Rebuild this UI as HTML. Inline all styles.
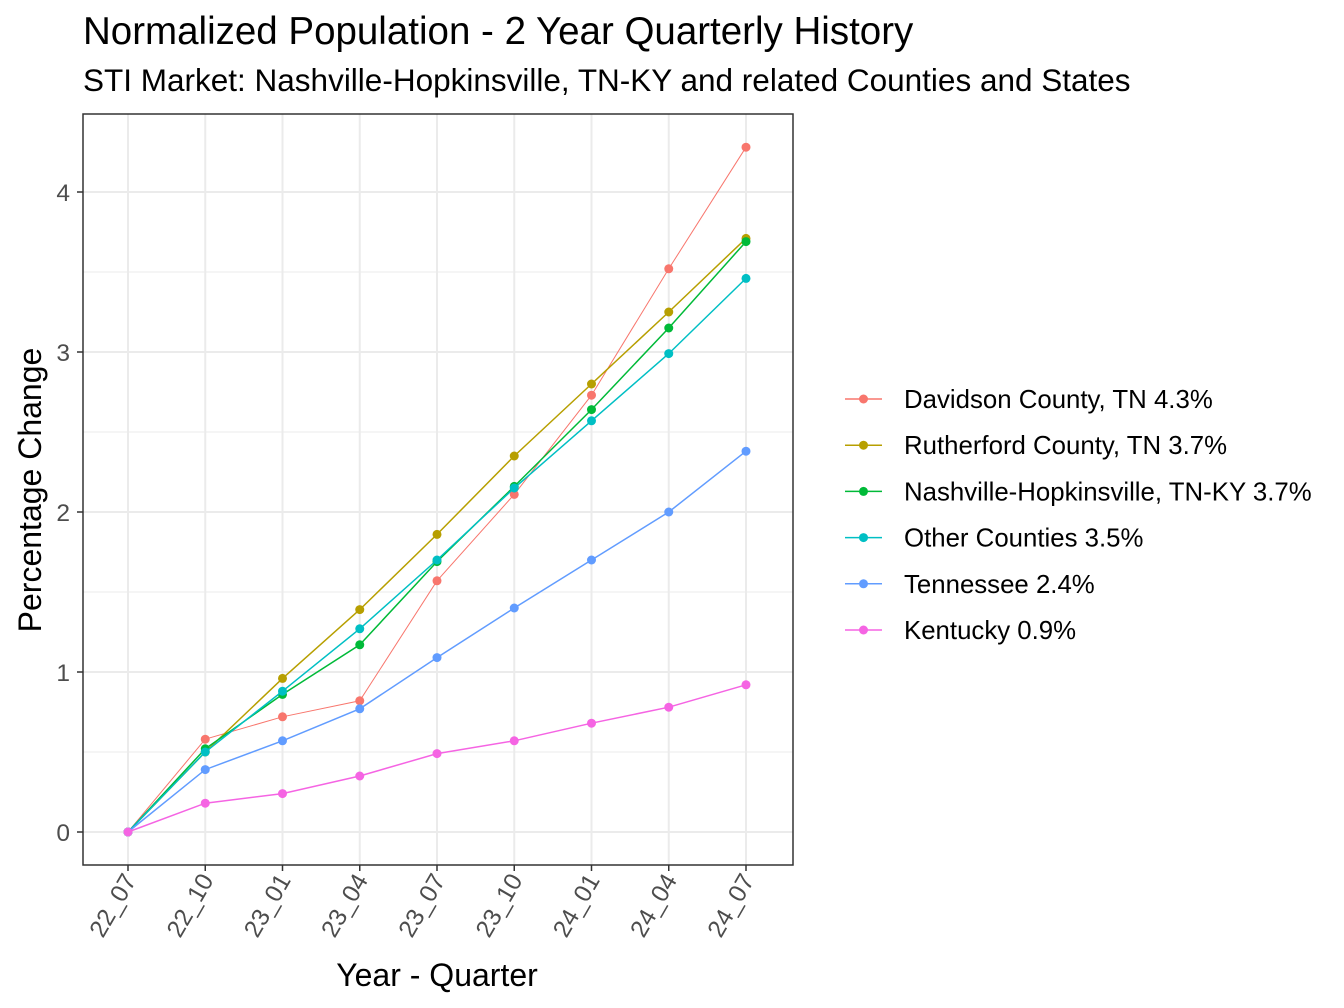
<!DOCTYPE html>
<html><head><meta charset="utf-8"><style>
html,body{margin:0;padding:0;background:#fff;}
svg{display:block;font-family:"Liberation Sans",Arial,sans-serif;}
</style></head><body>
<svg id="chart" width="1344" height="1008" viewBox="0 0 1344 1008">
<text x="83" y="44" font-size="38.5" fill="#000">Normalized Population - 2 Year Quarterly History</text>
<text x="83" y="91" font-size="31.5" fill="#000">STI Market: Nashville-Hopkinsville, TN-KY and related Counties and States</text>
<g id="grid"></g>
<g id="series"></g>
<rect x="83" y="114" width="710" height="751" fill="none" stroke="#333" stroke-width="1.5"/>
<g id="axes"></g>
<text transform="translate(41,490) rotate(-90)" text-anchor="middle" font-size="32" fill="#000">Percentage Change</text>
<text x="437" y="986" text-anchor="middle" font-size="32" fill="#000">Year - Quarter</text>
<g id="legend"></g>
</svg>
<script>
const categories = ["22_07","22_10","23_01","23_04","23_07","23_10","24_01","24_04","24_07"];
const yTicks = [0,1,2,3,4];
const seriesNames = ["Davidson County, TN 4.3%","Rutherford County, TN 3.7%","Nashville-Hopkinsville, TN-KY 3.7%","Other Counties 3.5%","Tennessee 2.4%","Kentucky 0.9%"];
const davidson = [0,0.58,0.72,0.82,1.57,2.11,2.73,3.52,4.28];
const rutherford = [0,0.50,0.96,1.39,1.86,2.35,2.80,3.25,3.71];
const nashville = [0,0.52,0.86,1.17,1.69,2.16,2.64,3.15,3.69];
const otherCounties = [0,0.50,0.88,1.27,1.70,2.15,2.57,2.99,3.46];
const tennessee = [0,0.39,0.57,0.77,1.09,1.40,1.70,2.00,2.38];
const kentucky = [0,0.18,0.24,0.35,0.49,0.57,0.68,0.78,0.92];
const seriesValues = [davidson,rutherford,nashville,otherCounties,tennessee,kentucky];
const colors = ["#F8766D","#B79F00","#00BA38","#00BFC4","#619CFF","#F564E3"];
const seriesIds = ["davidson","rutherford","nashville-hopkinsville","other-counties","tennessee","kentucky"];

const NS="http://www.w3.org/2000/svg";
const x0=128, xStep=(746-128)/(categories.length-1);
const xScale=i=>x0+i*xStep;
const yScale=v=>832-v*160;
function mk(tag,attrs,parent){const e=document.createElementNS(NS,tag);for(const k in attrs)e.setAttribute(k,attrs[k]);parent.appendChild(e);return e;}

const grid=document.getElementById('grid');
mk('rect',{x:83,y:114,width:710,height:751,fill:'#fff'},grid);
for(let i=0;i<yTicks.length;i++){
  const mv=yTicks[i]+0.5, ym=yScale(mv);
  if(ym>114){const m=mk('line',{x1:83,x2:793,y1:ym,y2:ym,stroke:'#ebebeb','stroke-width':1},grid);
  
  }
  const y=yScale(yTicks[i]);
  const l=mk('line',{x1:83,x2:793,y1:y,y2:y,stroke:'#ebebeb','stroke-width':2},grid);
  
  
}
categories.forEach((c,i)=>{
  const x=xScale(i);
  const l=mk('line',{x1:x,x2:x,y1:114,y2:865,stroke:'#ebebeb','stroke-width':2},grid);
  
  
});

const sg=document.getElementById('series');
seriesValues.forEach((vals,s)=>{
  const g=mk('g',{},sg);
  
  
  const pts=vals.map((v,i)=>xScale(i)+','+yScale(v)).join(' ');
  const pl=mk('polyline',{points:pts,fill:'none',stroke:colors[s],'stroke-width':s===0?1:1.5},g);
  
  
  vals.forEach((v,i)=>{
    const c=mk('circle',{cx:xScale(i),cy:yScale(v),r:4.5,fill:colors[s]},g);
    
    
  });
});

const ax=document.getElementById('axes');
yTicks.forEach(t=>{
  const y=yScale(t);
  const tk=mk('line',{x1:77,x2:83,y1:y,y2:y,stroke:'#333','stroke-width':1.5},ax);
  
  
  const tx=mk('text',{x:70,y:y+9,'text-anchor':'end','font-size':24.5,fill:'#4d4d4d'},ax);
  tx.textContent=t;
  
  
});
categories.forEach((c,i)=>{
  const x=xScale(i);
  const tk=mk('line',{x1:x,x2:x,y1:865,y2:871,stroke:'#333','stroke-width':1.5},ax);
  
  
  const tx=mk('text',{transform:`translate(${x+9},${880}) rotate(-60)`,'text-anchor':'end','font-size':24.5,fill:'#4d4d4d'},ax);
  tx.textContent=c;
  
  
});

const lg=document.getElementById('legend');
seriesNames.forEach((n,s)=>{
  const y=399+s*46.2;
  const g=mk('g',{},lg);
  
  
  mk('line',{x1:845,x2:882,y1:y,y2:y,stroke:colors[s],'stroke-width':1.5},g);
  mk('circle',{cx:863.5,cy:y,r:4.5,fill:colors[s]},g);
  const t=mk('text',{x:904,y:y+9,'font-size':25.8,fill:'#000'},g);
  t.textContent=n;
});
</script>
</body></html>
